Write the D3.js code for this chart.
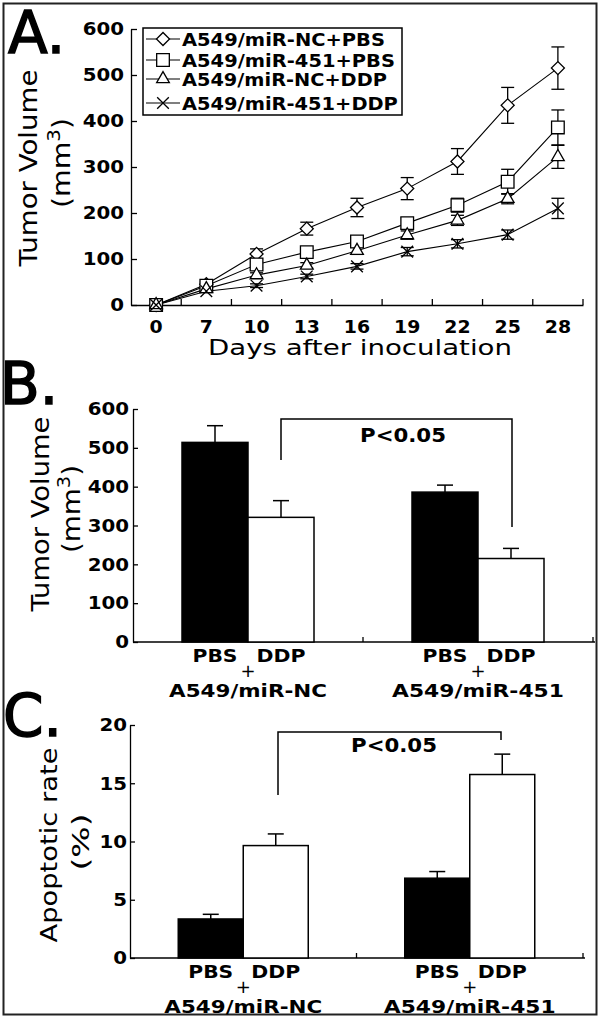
<!DOCTYPE html>
<html><head><meta charset="utf-8">
<script src="https://cdn.jsdelivr.net/npm/d3@7"></script>
<style>
body{margin:0;background:#fff}
svg{display:block}
text{font-family:"DejaVu Sans",Verdana,sans-serif;fill:#000}
</style>
</head><body>
<svg id="c" width="600" height="1022"></svg>
<script>
// ---------- DATA ----------
const days = [0, 7, 10, 13, 16, 19, 22, 25, 28];
const seriesNames = ["A549/miR-NC+PBS", "A549/miR-451+PBS", "A549/miR-NC+DDP", "A549/miR-451+DDP"];
const ncPbs      = [0, 45, 111, 166, 212, 253, 312, 434, 515];
const ncPbsErr   = [0, 5, 11, 14, 20, 24, 28, 39, 46];
const m451Pbs    = [0, 42, 88, 115, 138, 178, 217, 268, 386];
const m451PbsErr = [0, 5, 6, 8, 9, 12, 15, 27, 38];
const ncDdp      = [0, 35, 65, 86, 118, 152, 184, 231, 322];
const ncDdpErr   = [0, 4, 5, 6, 8, 9, 11, 11, 25];
const m451Ddp    = [0, 30, 42, 62, 84, 116, 133, 153, 210];
const m451DdpErr = [0, 3, 4, 5, 6, 9, 9, 10, 22];
const volTicks = [0, 100, 200, 300, 400, 500, 600];

const groups = ["A549/miR-NC", "A549/miR-451"];
const treatments = ["PBS", "DDP"];
const volPbs = [514, 386];
const volPbsErr = [43, 18];
const volDdp = [321, 215];
const volDdpErr = [43, 26];
const apopPbs = [3.35, 6.85];
const apopPbsErr = [0.4, 0.57];
const apopDdp = [9.65, 15.75];
const apopDdpErr = [1.0, 1.75];
const apopTicks = [0, 5, 10, 15, 20];
const pLabel = "P<0.05";

// ---------- HELPERS ----------
const svg = d3.select("#c");
svg.append("rect").attr("x", 3.5).attr("y", 3.5).attr("width", 593).attr("height", 1011)
  .attr("fill", "none").attr("stroke", "#222").attr("stroke-width", 2);

function label(g, str, x, y, o = {}) {
  const size = o.size || 18, weight = o.weight || "bold", anchor = o.anchor || "middle", rot = o.rotate || 0;
  const t = g.append("text").attr("font-size", size).attr("font-weight", weight).attr("text-anchor", anchor);
  if (o.sup) {
    t.append("tspan").text(str);
    t.append("tspan").attr("font-size", size * 0.7).attr("dy", -size * 0.42).text(o.sup);
    t.append("tspan").attr("dy", size * 0.42).text(o.after || "");
  } else t.text(str);
  let k = o.sx || 1;
  if (o.width) k = o.width / t.node().getComputedTextLength();
  t.attr("transform", `translate(${x},${y}) rotate(${rot}) scale(${k},1)`);
  if (o.thick) t.attr("stroke", "#000").attr("stroke-width", o.thick);
  return t;
}
function stretchTicks(sel, k) {
  sel.selectAll(".tick text").each(function () {
    const t = d3.select(this);
    const x = +t.attr("x") || 0, y = +t.attr("y") || 0;
    t.attr("x", 0).attr("y", 0).attr("transform", `translate(${x},${y}) scale(${k},1)`);
  });
}
function styleAxis(g) {
  g.selectAll("path,line").attr("stroke", "#000").attr("stroke-width", 1.3);
  g.selectAll("text").attr("font-size", 18).attr("font-weight", "bold")
    .attr("font-family", '"DejaVu Sans",Verdana,sans-serif').attr("fill", "#000");
}

// ---------- PANEL A ----------
const gA = svg.append("g");
const xA = d3.scaleBand().domain(days).range([131, 583]);
const yA = d3.scaleLinear().domain([0, 600]).range([305, 29]);
const cx = d => xA(d) + xA.bandwidth() / 2;

const yAxA = gA.append("g").attr("transform", "translate(131,0)")
  .call(d3.axisLeft(yA).tickValues(volTicks).tickSizeInner(-6).tickSizeOuter(0).tickPadding(7));
styleAxis(yAxA); stretchTicks(yAxA, 1.1);
const xAxA = gA.append("g").attr("transform", "translate(0,305)")
  .call(d3.axisBottom(xA).tickSize(0).tickPadding(15));
styleAxis(xAxA); stretchTicks(xAxA, 1.05);
xAxA.selectAll(".tick line").remove();
gA.append("g").selectAll("line").data(days).join("line")
  .attr("x1", d => xA(d) + xA.bandwidth()).attr("x2", d => xA(d) + xA.bandwidth())
  .attr("y1", 305).attr("y2", 299).attr("stroke", "#000").attr("stroke-width", 1.3);

const series = [
  { name: seriesNames[0], v: ncPbs, e: ncPbsErr, sym: d3.symbolSquare, size: 85, rot: 45 },
  { name: seriesNames[1], v: m451Pbs, e: m451PbsErr, sym: d3.symbolSquare, size: 160, rot: 0 },
  { name: seriesNames[2], v: ncDdp, e: ncDdpErr, sym: d3.symbolTriangle, size: 70, rot: 0 },
  { name: seriesNames[3], v: m451Ddp, e: m451DdpErr, sym: d3.symbolTimes, size: 90, rot: 0 }
];
// error bars
series.forEach(s => {
  const eg = gA.append("g").attr("stroke", "#000").attr("stroke-width", 1.3);
  days.forEach((d, i) => {
    if (!s.e[i]) return;
    const x = cx(d), y1 = yA(s.v[i] + s.e[i]), y2 = yA(s.v[i] - s.e[i]);
    eg.append("line").attr("x1", x).attr("x2", x).attr("y1", y1).attr("y2", y2);
    eg.append("line").attr("x1", x - 6.5).attr("x2", x + 6.5).attr("y1", y1).attr("y2", y1);
    eg.append("line").attr("x1", x - 6.5).attr("x2", x + 6.5).attr("y1", y2).attr("y2", y2);
  });
});
// lines
const line = d3.line().x((d, i) => cx(days[i])).y(d => yA(d));
series.forEach(s => {
  gA.append("path").attr("d", line(s.v)).attr("fill", "none").attr("stroke", "#000").attr("stroke-width", 1.1);
});
// markers
series.forEach(s => {
  const p = d3.symbol(s.sym, s.size)();
  gA.append("g").selectAll("path").data(s.v).join("path")
    .attr("d", p)
    .attr("transform", (d, i) => `translate(${cx(days[i])},${yA(d)}) rotate(${s.rot})`)
    .attr("fill", "#fff").attr("stroke", "#000").attr("stroke-width", 1.3);
});
// legend
const leg = gA.append("g");
leg.append("rect").attr("x", 143).attr("y", 28).attr("width", 259).attr("height", 87)
  .attr("fill", "#fff").attr("stroke", "#000").attr("stroke-width", 1.5);
const legY = [39, 60, 79, 103];
const legW = [203, 213, 205, 216];
series.forEach((s, i) => {
  const y = legY[i];
  leg.append("line").attr("x1", 146).attr("x2", 180).attr("y1", y).attr("y2", y).attr("stroke", "#000").attr("stroke-width", 1.1);
  leg.append("path").attr("d", d3.symbol(s.sym, s.size)())
    .attr("transform", `translate(163,${y}) rotate(${s.rot})`)
    .attr("fill", "#fff").attr("stroke", "#000").attr("stroke-width", 1.3);
  label(leg, s.name, 182, y + 6.5, { anchor: "start", width: legW[i] });
});
// titles
label(gA, "A.", 8, 53, { size: 58, weight: "normal", anchor: "start", thick: 1.5 });
label(gA, "Tumor Volume", 37, 168, { size: 24, weight: "normal", rotate: -90, width: 197 });
label(gA, "(mm", 70, 163, { size: 24, weight: "normal", rotate: -90, width: 90, sup: "3", after: ")" });
label(gA, "Days after inoculation", 360, 355, { size: 22, weight: "normal", width: 304 });

// ---------- BAR PANELS ----------
function barPanel(cfg) {
  const g = svg.append("g");
  const xG = d3.scaleBand().domain(groups).range([cfg.x0, cfg.x1]);
  const xT = d3.scaleBand().domain(treatments).range([-cfg.bw, cfg.bw]);
  const y = d3.scaleLinear().domain(cfg.domain).range([cfg.yb, cfg.yt]);
  const gc = d => xG(d) + xG.bandwidth() / 2;

  const ya = g.append("g").attr("transform", `translate(${cfg.x0},0)`)
    .call(d3.axisLeft(y).tickValues(cfg.ticks).tickSizeInner(-5).tickSizeOuter(0).tickPadding(cfg.pad));
  styleAxis(ya); stretchTicks(ya, 1.1);
  g.append("line").attr("x1", cfg.x0).attr("x2", cfg.x1 + 2).attr("y1", cfg.yb).attr("y2", cfg.yb)
    .attr("stroke", "#000").attr("stroke-width", 1.3);
  g.append("g").selectAll("line").data(groups).join("line")
    .attr("x1", d => xG(d) + xG.bandwidth()).attr("x2", d => xG(d) + xG.bandwidth())
    .attr("y1", cfg.yb).attr("y2", cfg.yb - 5).attr("stroke", "#000").attr("stroke-width", 1.3);

  const rows = [];
  groups.forEach((grp, i) => {
    rows.push({ grp, t: "PBS", v: cfg.pbs[i], e: cfg.pbsErr[i] });
    rows.push({ grp, t: "DDP", v: cfg.ddp[i], e: cfg.ddpErr[i] });
  });
  const bx = r => gc(r.grp) + xT(r.t);
  const bcx = r => bx(r) + xT.bandwidth() / 2;
  // error bars (upper only)
  const eg = g.append("g").attr("stroke", "#000").attr("stroke-width", 1.5);
  rows.forEach(r => {
    eg.append("line").attr("x1", bcx(r)).attr("x2", bcx(r)).attr("y1", y(r.v)).attr("y2", y(r.v + r.e));
    eg.append("line").attr("x1", bcx(r) - 8).attr("x2", bcx(r) + 8).attr("y1", y(r.v + r.e)).attr("y2", y(r.v + r.e));
  });
  g.append("g").selectAll("rect").data(rows).join("rect")
    .attr("x", bx).attr("width", xT.bandwidth())
    .attr("y", r => y(r.v)).attr("height", r => cfg.yb - y(r.v))
    .attr("fill", r => r.t === "PBS" ? "#000" : "#fff")
    .attr("stroke", "#000").attr("stroke-width", 1.5);
  // bracket
  const b = cfg.bracket;
  g.append("path").attr("d", `M${b.x1},${b.y1}V${b.top}H${b.x2}V${b.y2}`)
    .attr("fill", "none").attr("stroke", "#000").attr("stroke-width", 1.5);
  label(g, pLabel, b.tx, b.ty, { size: 20, width: 86 });
  // category labels
  rows.forEach(r => label(g, r.t, bcx(r), cfg.lab1, { size: 18, width: r.t === "PBS" ? 45 : 49 }));
  groups.forEach(grp => {
    label(g, "+", gc(grp), cfg.lab1 + 15, { size: 18, weight: "normal" });
    label(g, grp, gc(grp), cfg.lab1 + 35, { size: 18, width: grp.includes("NC") ? 158 : 172 });
  });
  return g;
}

const gB = barPanel({
  x0: 133, x1: 593, bw: 66, yb: 642, yt: 409, domain: [0, 600], ticks: volTicks, pad: 4,
  pbs: volPbs, pbsErr: volPbsErr, ddp: volDdp, ddpErr: volDdpErr,
  bracket: { x1: 281, y1: 460, x2: 512, y2: 527, top: 419, tx: 403, ty: 442 },
  lab1: 662
});
label(gB, "B.", 0, 404, { size: 58, weight: "normal", anchor: "start", thick: 1.5 });
label(gB, "Tumor Volume", 49, 514, { size: 24, weight: "normal", rotate: -90, width: 195 });
label(gB, "(mm", 80, 509, { size: 24, weight: "normal", rotate: -90, width: 88, sup: "3", after: ")" });

const gC = barPanel({
  x0: 130, x1: 583, bw: 65, yb: 958, yt: 725, domain: [0, 20], ticks: apopTicks, pad: 3,
  pbs: apopPbs, pbsErr: apopPbsErr, ddp: apopDdp, ddpErr: apopDdpErr,
  bracket: { x1: 278, y1: 795, x2: 501, y2: 740, top: 732, tx: 394, ty: 752 },
  lab1: 978
});
label(gC, "C.", 3, 736, { size: 58, weight: "normal", anchor: "start", thick: 1.5 });
label(gC, "Apoptotic rate", 57, 845, { size: 23, weight: "normal", rotate: -90, width: 195 });
label(gC, "(%)", 89, 842, { size: 23, weight: "normal", rotate: -90, width: 57 });
</script>
</body></html>
